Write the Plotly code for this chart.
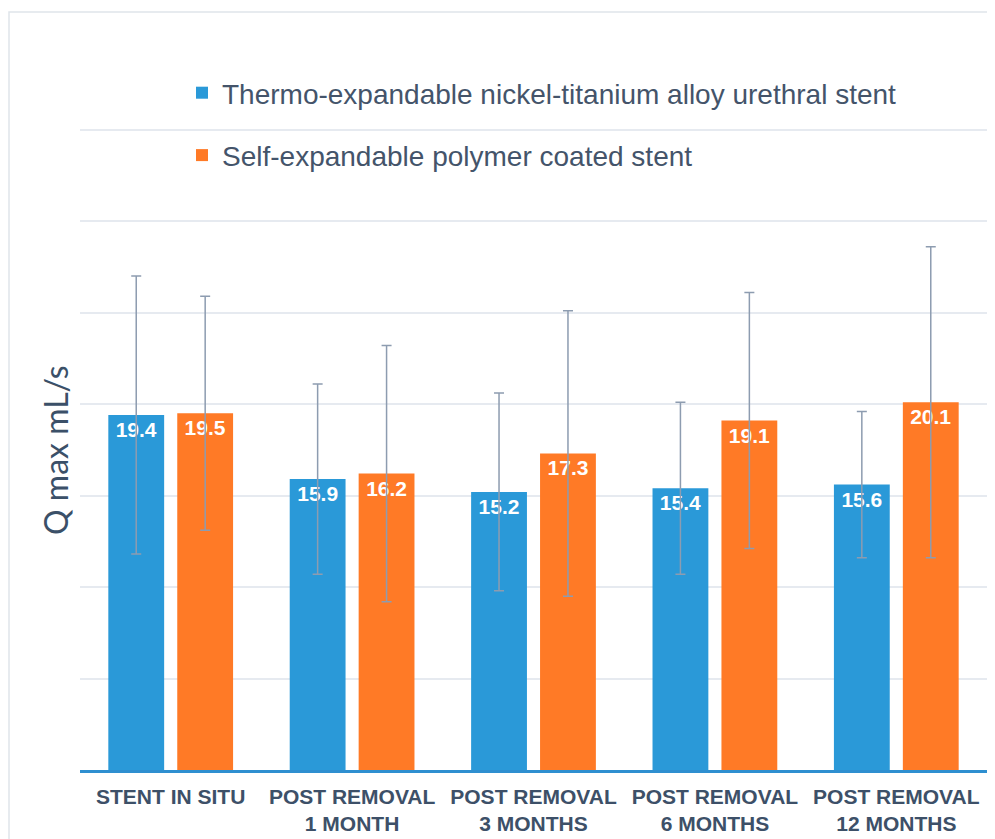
import plotly.graph_objects as go

categories = ["STENT IN SITU", "POST REMOVAL<br>1 MONTH", "POST REMOVAL<br>3 MONTHS",
              "POST REMOVAL<br>6 MONTHS", "POST REMOVAL<br>12 MONTHS"]
series_names = ["Thermo-expandable nickel-titanium alloy urethral stent",
                "Self-expandable polymer coated stent"]
nitinol_mean = [19.4, 15.9, 15.2, 15.4, 15.6]
nitinol_sd = [7.6, 5.2, 5.4, 4.7, 4.0]
polymer_mean = [19.5, 16.2, 17.3, 19.1, 20.1]
polymer_sd = [6.4, 7.0, 7.8, 7.0, 8.5]
y_ticks = [0, 5, 10, 15, 20, 25, 30, 35]

colors = ["#2a99d8", "#ff7a26"]
err_color = "#8d9cb0"

fig = go.Figure()
for i, (name, vals, sd) in enumerate([(series_names[0], nitinol_mean, nitinol_sd),
                                       (series_names[1], polymer_mean, polymer_sd)]):
    fig.add_trace(go.Bar(
        name=name, x=categories, y=vals,
        legendgroup=f"g{i}",
        marker=dict(color=colors[i], line=dict(width=0)),
        error_y=dict(type="data", array=sd, visible=True, color=err_color,
                     thickness=1.5, width=5),
        texttemplate="%{y:.1f}", textposition="inside", insidetextanchor="end",
        textangle=0,
        insidetextfont=dict(family="Liberation Sans, Arial", size=21, color="white", weight="bold"),
    ))

# page body has an 8px margin: figure is sized and placed to compensate
W, H = 987, 831
L, R, T, B = 72, 8, 32, 69
pw, ph = W - L - R, H - T - B

def px(x):
    return (x - 8 - L) / pw

def py(y):
    return (H - B - (y - 8)) / ph

fig.update_layout(
    width=W, height=H,
    margin=dict(l=L, r=R, t=T, b=B, autoexpand=False),
    paper_bgcolor="white", plot_bgcolor="white",
    barmode="group", bargap=0.24, bargroupgap=0.19,
    showlegend=True,
    legend=dict(x=px(182), y=py(68), xanchor="left", yanchor="top",
                font=dict(family="Liberation Sans, Arial", size=28, color="#44546a"),
                tracegroupgap=23, bgcolor="rgba(0,0,0,0)"),
    xaxis=dict(showgrid=False, showline=True, linecolor="#2e8fd0", linewidth=2.5,
               ticks="", ticklabelstandoff=6, automargin=False,
               tickfont=dict(family="Liberation Sans, Arial", size=21,
                             color="#3d5068", weight="bold")),
    yaxis=dict(range=[0, 39.9], tickvals=y_ticks, showticklabels=False, automargin=False,
               showgrid=True, gridcolor="#e6eaf0", gridwidth=1.5, zeroline=False,
               ticks=""),
    annotations=[dict(text="Q max mL/s", xref="paper", yref="paper", x=px(55), y=py(450),
                      xanchor="center", yanchor="middle", textangle=-90, showarrow=False,
                      font=dict(family="Lato, Open Sans", size=32, color="#3b5068"))],
    shapes=[dict(type="rect", xref="paper", yref="paper", x0=px(9), x1=px(1010),
                 y0=py(860), y1=py(12), line=dict(color="#dfe5ea", width=1.5),
                 fillcolor="rgba(0,0,0,0)", layer="below")],
)

fig.write_html("out.html")
